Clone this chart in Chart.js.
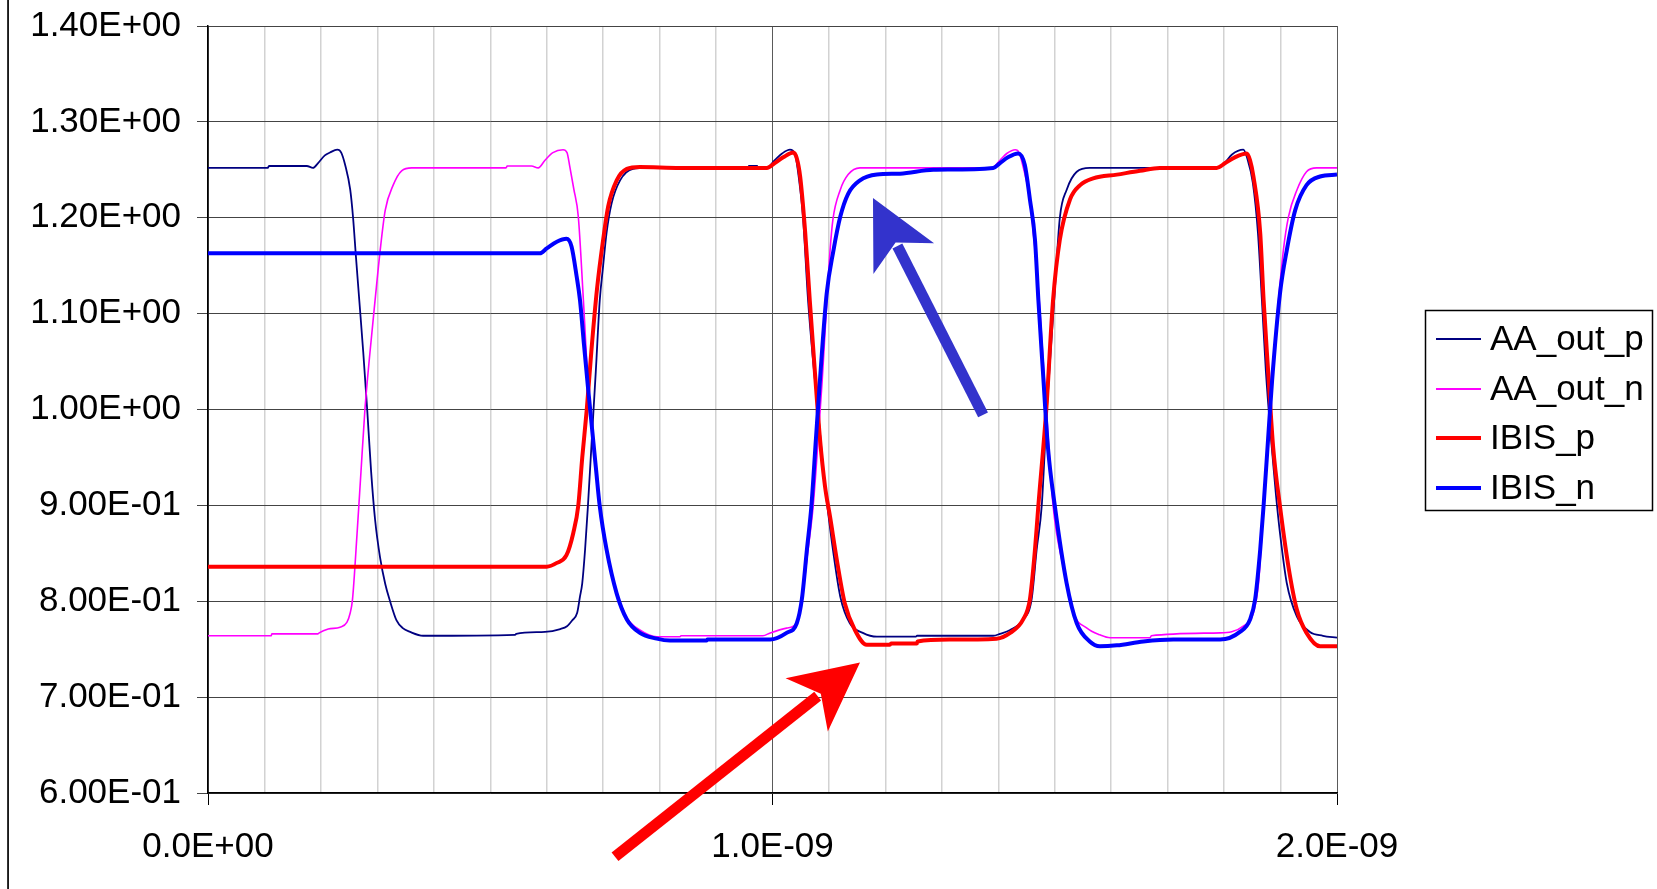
<!DOCTYPE html>
<html>
<head>
<meta charset="utf-8">
<style>
  html, body { margin: 0; padding: 0; background: #ffffff; }
  #wrap { width: 1657px; height: 889px; }
</style>
<script src="https://cdn.jsdelivr.net/npm/chart.js@4/dist/chart.umd.min.js"></script>
</head>
<body>
<div id="wrap"><canvas id="c" width="1657" height="889"></canvas></div>
<script>
// Differential output waveforms: time in ns, voltage in V, as [t, v] pairs.
const aaOutP = [
  [0,1.252],[0.106,1.252],[0.108,1.254],[0.175,1.254],[0.186,1.252],[0.195,1.257],[0.207,1.265],
  [0.216,1.268],[0.229,1.271],[0.236,1.268],[0.243,1.255],[0.252,1.229],[0.257,1.200],[0.262,1.160],
  [0.268,1.114],[0.275,1.060],[0.282,1.000],[0.289,0.935],[0.296,0.885],[0.305,0.845],[0.314,0.818],
  [0.322,0.801],[0.334,0.780],[0.345,0.772],[0.358,0.768],[0.381,0.764],[0.544,0.765],[0.546,0.766],
  [0.597,0.768],[0.624,0.771],[0.636,0.774],[0.645,0.780],[0.654,0.788],[0.659,0.805],[0.663,0.819],
  [0.668,0.854],[0.673,0.899],[0.680,0.970],[0.687,1.040],[0.694,1.114],[0.700,1.150],[0.706,1.184],
  [0.715,1.215],[0.730,1.239],[0.753,1.251],[0.778,1.252],[0.957,1.252],[0.958,1.254],[0.973,1.254],
  [0.974,1.252],[0.990,1.252],[1.004,1.260],[1.017,1.267],[1.031,1.271],[1.040,1.266],[1.047,1.240],
  [1.054,1.201],[1.063,1.114],[1.072,1.050],[1.082,0.990],[1.091,0.930],[1.098,0.895],[1.107,0.854],
  [1.120,0.805],[1.137,0.777],[1.160,0.767],[1.185,0.763],[1.254,0.763],[1.256,0.764],[1.391,0.764],
  [1.403,0.766],[1.421,0.770],[1.444,0.781],[1.459,0.802],[1.468,0.854],[1.477,0.900],[1.486,1.000],
  [1.499,1.114],[1.509,1.200],[1.521,1.229],[1.539,1.248],[1.562,1.252],[1.787,1.252],[1.802,1.258],
  [1.814,1.266],[1.834,1.271],[1.841,1.262],[1.851,1.236],[1.860,1.184],[1.867,1.114],[1.874,1.040],
  [1.883,0.970],[1.892,0.910],[1.899,0.871],[1.911,0.819],[1.929,0.784],[1.952,0.768],[1.975,0.764],
  [2.000,0.762]
];

const aaOutN = [
  [0,0.764],[0.112,0.764],[0.113,0.766],[0.195,0.766],[0.197,0.767],[0.213,0.771],[0.234,0.773],
  [0.246,0.778],[0.252,0.788],[0.256,0.802],[0.264,0.870],[0.271,0.935],[0.278,1.000],[0.287,1.060],
  [0.296,1.114],[0.305,1.166],[0.314,1.208],[0.328,1.234],[0.343,1.249],[0.361,1.252],[0.528,1.252],
  [0.530,1.254],[0.573,1.254],[0.585,1.252],[0.597,1.260],[0.611,1.268],[0.629,1.271],[0.636,1.268],
  [0.641,1.253],[0.648,1.230],[0.656,1.201],[0.665,1.114],[0.673,1.030],[0.680,0.985],[0.687,0.940],
  [0.694,0.900],[0.706,0.854],[0.724,0.810],[0.742,0.783],[0.765,0.770],[0.795,0.763],[0.836,0.763],
  [0.838,0.764],[0.983,0.764],[0.996,0.767],[1.025,0.772],[1.043,0.777],[1.052,0.802],[1.063,0.854],
  [1.072,0.899],[1.081,0.970],[1.088,1.030],[1.095,1.100],[1.102,1.166],[1.107,1.198],[1.120,1.229],
  [1.134,1.245],[1.155,1.252],[1.388,1.252],[1.403,1.260],[1.415,1.267],[1.430,1.271],[1.437,1.268],
  [1.444,1.253],[1.456,1.219],[1.462,1.184],[1.468,1.149],[1.483,1.020],[1.497,0.900],[1.515,0.836],
  [1.533,0.788],[1.557,0.772],[1.580,0.765],[1.598,0.762],[1.669,0.762],[1.671,0.764],[1.793,0.767],
  [1.834,0.774],[1.852,0.788],[1.861,0.819],[1.867,0.871],[1.874,0.940],[1.881,1.000],[1.890,1.070],
  [1.905,1.166],[1.914,1.201],[1.929,1.229],[1.946,1.248],[1.964,1.252],[2.000,1.252]
];

const ibisP = [
  [0,0.836],[0.600,0.836],[0.618,0.840],[0.635,0.848],[0.647,0.871],[0.656,0.900],[0.663,0.950],
  [0.671,1.000],[0.679,1.060],[0.689,1.125],[0.700,1.177],[0.709,1.212],[0.724,1.239],[0.742,1.251],
  [0.765,1.253],[0.836,1.252],[0.990,1.252],[1.004,1.257],[1.019,1.263],[1.037,1.268],[1.043,1.262],
  [1.049,1.243],[1.058,1.184],[1.066,1.114],[1.075,1.040],[1.084,0.970],[1.093,0.920],[1.102,0.888],
  [1.114,0.843],[1.128,0.798],[1.146,0.770],[1.167,0.7545],[1.208,0.7545],[1.210,0.756],[1.256,0.756],
  [1.257,0.758],[1.314,0.760],[1.397,0.761],[1.421,0.767],[1.444,0.781],[1.456,0.802],[1.465,0.854],
  [1.471,0.900],[1.485,1.000],[1.497,1.114],[1.509,1.177],[1.527,1.219],[1.545,1.234],[1.568,1.241],
  [1.610,1.245],[1.651,1.249],[1.686,1.252],[1.787,1.252],[1.802,1.257],[1.819,1.263],[1.840,1.267],
  [1.846,1.260],[1.852,1.243],[1.864,1.184],[1.870,1.114],[1.878,1.040],[1.887,0.960],[1.899,0.899],
  [1.914,0.836],[1.929,0.791],[1.946,0.767],[1.970,0.753],[2.000,0.753]
];

const ibisN = [
  [0,1.163],[0.588,1.163],[0.600,1.168],[0.618,1.175],[0.635,1.178],[0.644,1.170],[0.653,1.139],
  [0.659,1.114],[0.666,1.068],[0.673,1.024],[0.680,0.982],[0.687,0.940],[0.694,0.899],[0.706,0.854],
  [0.724,0.808],[0.742,0.781],[0.765,0.767],[0.795,0.761],[0.818,0.759],[0.883,0.759],[0.885,0.760],
  [0.996,0.760],[1.025,0.767],[1.043,0.777],[1.052,0.802],[1.061,0.854],[1.069,0.900],[1.077,0.970],
  [1.084,1.030],[1.096,1.121],[1.108,1.166],[1.120,1.201],[1.134,1.225],[1.155,1.239],[1.185,1.245],
  [1.226,1.246],[1.285,1.250],[1.391,1.252],[1.403,1.257],[1.417,1.263],[1.435,1.267],[1.447,1.255],
  [1.456,1.219],[1.465,1.177],[1.471,1.114],[1.479,1.040],[1.488,0.960],[1.500,0.900],[1.521,0.819],
  [1.539,0.777],[1.562,0.758],[1.580,0.753],[1.610,0.754],[1.657,0.758],[1.710,0.760],[1.793,0.760],
  [1.828,0.768],[1.846,0.781],[1.855,0.802],[1.864,0.854],[1.870,0.900],[1.878,0.970],[1.885,1.030],
  [1.899,1.121],[1.911,1.166],[1.926,1.208],[1.946,1.234],[1.970,1.243],[2.000,1.245]
];

const seriesNames = ['AA_out_p', 'AA_out_n', 'IBIS_p', 'IBIS_n'];
const seriesData = [aaOutP, aaOutN, ibisP, ibisN];

// Axis ranges (time in ns, voltage in V)
const xRange = [0, 2];
const xStep = 0.1;
const yRange = [0.6, 1.4];
const yStep = 0.1;

// Callout arrows, anchored in data space: [tailT, tailV, tipT, tipV]
const blueCallout = [1.373, 0.9944, 1.178, 1.2207];
const redCallout = [0.721, 0.5335, 1.155, 0.736];

const lineColors = ['#000080', '#FF00FF', '#FF0000', '#0000FF'];
const lineWidths = [1.8, 1.6, 4, 4];
const drawOrder = [4, 3, 2, 1];

const FONT = "'Liberation Sans', Arial, sans-serif";

function sci(v, d) {
  if (Math.abs(v) < 1e-30) return (0).toFixed(d) + 'E+00';
  const e = Math.floor(Math.log10(Math.abs(v)) + 1e-9);
  const m = v / Math.pow(10, e);
  return m.toFixed(d) + 'E' + (e < 0 ? '-' : '+') + String(Math.abs(e)).padStart(2, '0');
}
const isWhole = v => Math.abs(v - Math.round(v)) < 1e-6;

function drawArrow(ctx, x0, y0, x1, y1, color) {
  const dx = x1 - x0, dy = y1 - y0, L = Math.hypot(dx, dy);
  const ux = dx / L, uy = dy / L, px = -uy, py = ux;
  const w = 5.5, headLen = 68, headHalf = 34, notch = 50;
  const sx = x1 - ux * (notch + 4), sy = y1 - uy * (notch + 4);
  ctx.save();
  ctx.fillStyle = color;
  ctx.beginPath();
  ctx.moveTo(x0 + px * w, y0 + py * w);
  ctx.lineTo(sx + px * w, sy + py * w);
  ctx.lineTo(sx - px * w, sy - py * w);
  ctx.lineTo(x0 - px * w, y0 - py * w);
  ctx.closePath();
  ctx.fill();
  const bx = x1 - ux * headLen, by = y1 - uy * headLen;
  const nx = x1 - ux * notch, ny = y1 - uy * notch;
  ctx.beginPath();
  ctx.moveTo(x1, y1);
  ctx.lineTo(bx + px * headHalf, by + py * headHalf);
  ctx.lineTo(nx, ny);
  ctx.lineTo(bx - px * headHalf, by - py * headHalf);
  ctx.closePath();
  ctx.fill();
  ctx.restore();
}

const decorations = {
  id: 'decorations',
  beforeDraw(chart) {
    const ctx = chart.ctx;
    ctx.save();
    ctx.fillStyle = '#ffffff';
    ctx.fillRect(0, 0, chart.width, chart.height);
    ctx.fillStyle = '#000000';
    ctx.fillRect(7.2, 0, 1.7, chart.height);
    ctx.restore();
  },
  afterDraw(chart) {
    const ctx = chart.ctx;
    const xs = chart.scales.x, ys = chart.scales.y;
    const pt = (t, v) => [xs.getPixelForValue(t), ys.getPixelForValue(v)];
    const b0 = pt(blueCallout[0], blueCallout[1]), b1 = pt(blueCallout[2], blueCallout[3]);
    drawArrow(ctx, b0[0], b0[1], b1[0], b1[1], '#3333CC');
    const r0 = pt(redCallout[0], redCallout[1]), r1 = pt(redCallout[2], redCallout[3]);
    drawArrow(ctx, r0[0], r0[1], r1[0], r1[1], '#FF0000');

    // legend box
    ctx.save();
    ctx.strokeStyle = '#000000';
    ctx.lineWidth = 1.5;
    ctx.strokeRect(1425.5, 310.5, 227, 200);
    ctx.font = '35px ' + FONT;
    ctx.textBaseline = 'middle';
    ctx.textAlign = 'left';
    const rows = [339, 389, 438, 488];
    chart.data.datasets.forEach((ds, i) => {
      const y = rows[i];
      ctx.strokeStyle = ds.borderColor;
      ctx.lineWidth = i < 2 ? 2 : 4;
      ctx.beginPath();
      ctx.moveTo(1436, y);
      ctx.lineTo(1481, y);
      ctx.stroke();
      ctx.fillStyle = '#000000';
      ctx.fillText(ds.label, 1490, y + 1);
    });
    ctx.restore();
  }
};

const datasets = seriesNames.map((name, i) => ({
  label: name,
  data: seriesData[i].map(p => ({ x: p[0], y: p[1] })),
  borderColor: lineColors[i],
  backgroundColor: lineColors[i],
  borderWidth: lineWidths[i],
  pointRadius: 0,
  fill: false,
  cubicInterpolationMode: 'monotone',
  order: drawOrder[i]
}));

new Chart(document.getElementById('c'), {
  type: 'line',
  data: { datasets },
  plugins: [decorations],
  options: {
    responsive: false,
    animation: false,
    events: [],
    layout: { padding: { left: 0, top: 26, right: 320, bottom: 0 } },
    plugins: { legend: { display: false }, tooltip: { enabled: false } },
    scales: {
      x: {
        type: 'linear',
        min: xRange[0],
        max: xRange[1],
        afterFit(scale) {
          scale.height = 96;
          scale.paddingLeft = 0;
          scale.paddingRight = 0;
        },
        border: { display: true, color: '#000000', width: 1.5 },
        grid: {
          color: ctx => (ctx.tick && isWhole(ctx.tick.value)) ? '#5a5a5a' : '#d2d2d2',
          lineWidth: ctx => (ctx.tick && isWhole(ctx.tick.value)) ? 1 : 1.5,
          tickColor: ctx => (ctx.tick && isWhole(ctx.tick.value)) ? '#000000' : 'rgba(0,0,0,0)',
          tickLength: 12,
          drawTicks: true
        },
        ticks: {
          stepSize: xStep,
          autoSkip: false,
          maxRotation: 0,
          padding: 21,
          color: '#000000',
          font: { family: FONT, size: 35 },
          callback: v => isWhole(v) ? sci(v * 1e-9, 1) : ''
        }
      },
      y: {
        type: 'linear',
        min: yRange[0],
        max: yRange[1],
        afterFit(scale) {
          scale.width = 208;
          scale.paddingTop = 0;
          scale.paddingBottom = 0;
        },
        border: { display: true, color: '#000000', width: 1.5 },
        grid: {
          color: '#444444',
          lineWidth: 1,
          tickColor: '#444444',
          tickLength: 11,
          drawTicks: true
        },
        ticks: {
          stepSize: yStep,
          padding: 16,
          color: '#000000',
          font: { family: FONT, size: 35 },
          callback: v => sci(v, 2)
        }
      }
    }
  }
});
</script>
</body>
</html>
